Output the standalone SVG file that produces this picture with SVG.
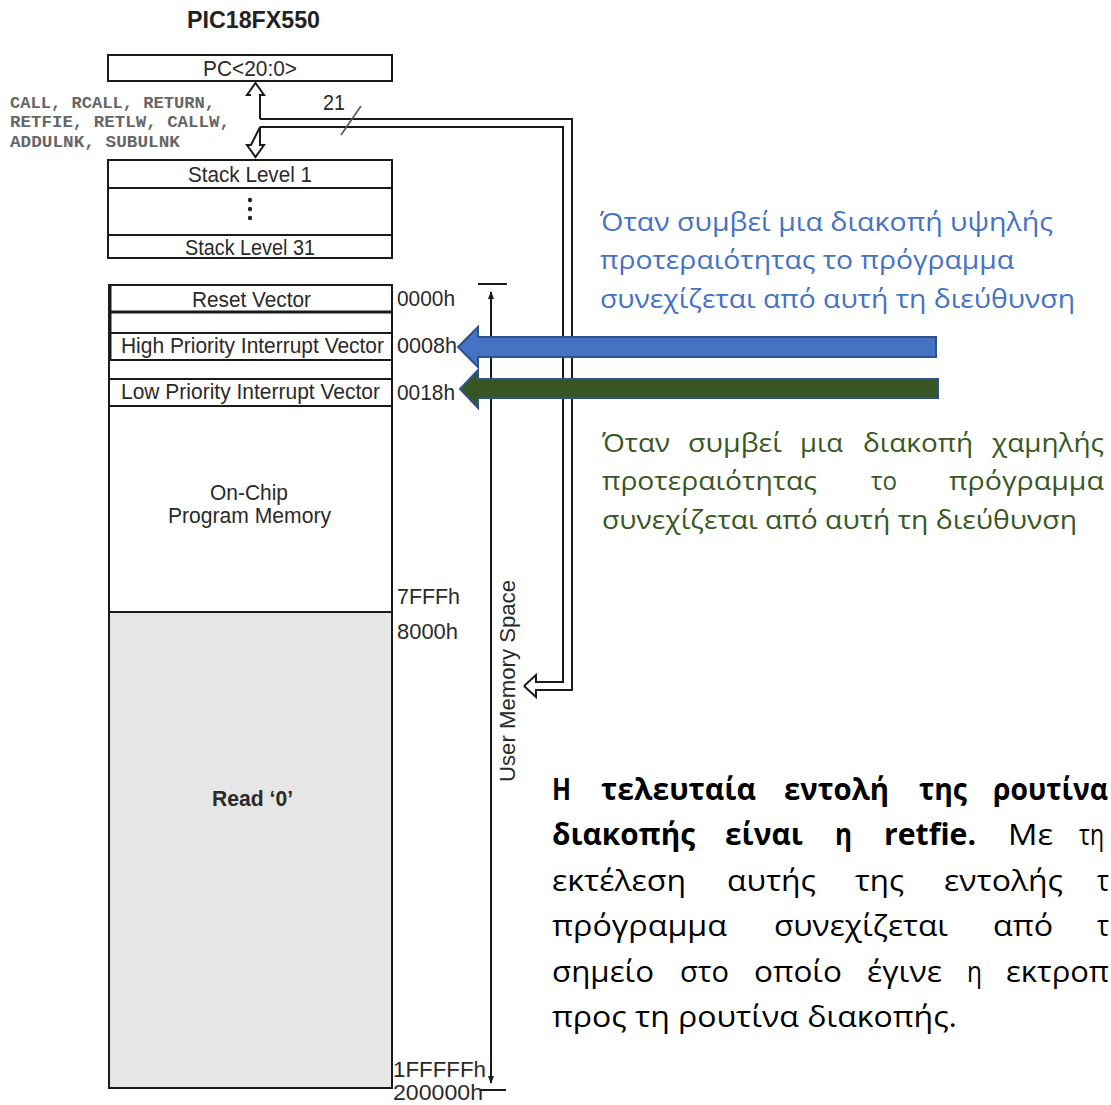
<svg xmlns="http://www.w3.org/2000/svg" width="1111" height="1105" viewBox="0 0 1111 1105">
  <style>
    .lbl { font-family: "Liberation Sans", Arial, sans-serif; font-size: 22px; fill: #2a2a2a; }
    .mono { font-family: "Liberation Mono", "Courier New", monospace; font-size: 17.3px; font-weight: bold; fill: #666; }
    .box { fill: #fff; stroke: #1a1a1a; stroke-width: 2; }
    .ln { stroke: #1a1a1a; stroke-width: 2; fill: none; }
    .gk { font-family: "Open Sans", "Noto Sans", sans-serif; font-size: 26px; }
    .gk2 { font-family: "Open Sans", "Noto Sans", sans-serif; font-size: 29.5px; }
    .blue { fill: #4472C4; }
    .green { fill: #385723; }
    .blk { fill: #000; }
    .b { font-weight: bold; }
  </style>
  <defs>
    <marker id="tip" viewBox="0 0 8 8" refX="7" refY="4" markerWidth="8" markerHeight="8" orient="auto" markerUnits="userSpaceOnUse">
      <path d="M0,1 L8,4 L0,7 Z" fill="#1a1a1a"/>
    </marker>
  </defs>

  <rect width="1111" height="1105" fill="#fff"/>

  <!-- title -->
  <text x="187" y="28" font-family="Liberation Sans, Arial, sans-serif" font-weight="bold" font-size="23" fill="#222" textLength="133" lengthAdjust="spacingAndGlyphs">PIC18FX550</text>

  <!-- program counter -->
  <g id="pc">
    <rect class="box" x="108" y="55" width="284" height="26"/>
    <text class="lbl" x="203" y="76" textLength="94" lengthAdjust="spacingAndGlyphs">PC&lt;20:0&gt;</text>
  </g>

  <!-- instructions acting on the stack -->
  <g id="ops">
    <text class="mono" x="10" y="108" textLength="205" lengthAdjust="spacingAndGlyphs">CALL, RCALL, RETURN,</text>
    <text class="mono" x="10" y="127" textLength="220" lengthAdjust="spacingAndGlyphs">RETFIE, RETLW, CALLW,</text>
    <text class="mono" x="10" y="147" textLength="170" lengthAdjust="spacingAndGlyphs">ADDULNK, SUBULNK</text>
  </g>

  <!-- return address stack -->
  <g id="stack">
    <rect class="box" x="108" y="160" width="284" height="98"/>
    <line class="ln" x1="108" y1="188" x2="392" y2="188"/>
    <line class="ln" x1="108" y1="235" x2="392" y2="235"/>
    <text class="lbl" x="188" y="182" textLength="124" lengthAdjust="spacingAndGlyphs">Stack Level 1</text>
    <circle cx="250" cy="200" r="2.2" fill="#222"/>
    <circle cx="250" cy="209" r="2.2" fill="#222"/>
    <circle cx="250" cy="218" r="2.2" fill="#222"/>
    <text class="lbl" x="185" y="255" textLength="130" lengthAdjust="spacingAndGlyphs">Stack Level 31</text>
  </g>

  <!-- program memory map -->
  <g id="memory">
    <rect x="109" y="613" width="283" height="475" fill="#e6e6e6"/>
    <path class="ln" d="M109,285 H392 V1088 H109 Z"/>
    <line x1="110" y1="285" x2="110" y2="360" stroke="#1a1a1a" stroke-width="3"/>
    <line x1="109" y1="312" x2="392" y2="312" stroke="#1a1a1a" stroke-width="3"/>
    <line class="ln" x1="109" y1="333" x2="392" y2="333"/>
    <line class="ln" x1="109" y1="360" x2="392" y2="360"/>
    <line class="ln" x1="109" y1="379" x2="392" y2="379"/>
    <line class="ln" x1="109" y1="406" x2="392" y2="406"/>
    <line class="ln" x1="109" y1="612" x2="392" y2="612"/>
    <text class="lbl" x="192" y="307" textLength="119" lengthAdjust="spacingAndGlyphs">Reset Vector</text>
    <text class="lbl" x="121" y="353" textLength="263" lengthAdjust="spacingAndGlyphs">High Priority Interrupt Vector</text>
    <text class="lbl" x="121" y="399" textLength="259" lengthAdjust="spacingAndGlyphs">Low Priority Interrupt Vector</text>
    <text class="lbl" x="210" y="500" textLength="78" lengthAdjust="spacingAndGlyphs">On-Chip</text>
    <text class="lbl" x="168" y="523" textLength="163" lengthAdjust="spacingAndGlyphs">Program Memory</text>
    <text class="lbl" x="212" y="806" font-weight="bold" fill="#1a1a1a" textLength="81" lengthAdjust="spacingAndGlyphs">Read ‘0’</text>
  </g>

  <!-- addresses -->
  <g id="addresses">
    <text class="lbl" x="397" y="306" textLength="58" lengthAdjust="spacingAndGlyphs">0000h</text>
    <text class="lbl" x="397" y="353" textLength="60" lengthAdjust="spacingAndGlyphs">0008h</text>
    <text class="lbl" x="397" y="400" textLength="58" lengthAdjust="spacingAndGlyphs">0018h</text>
    <text class="lbl" x="397" y="604" textLength="63" lengthAdjust="spacingAndGlyphs">7FFFh</text>
    <text class="lbl" x="397" y="639" textLength="61" lengthAdjust="spacingAndGlyphs">8000h</text>
    <text class="lbl" x="393" y="1077" font-size="20" textLength="93" lengthAdjust="spacingAndGlyphs">1FFFFFh</text>
    <text class="lbl" x="393" y="1100" font-size="19.5" textLength="90" lengthAdjust="spacingAndGlyphs">200000h</text>
  </g>

  <!-- user memory span -->
  <g id="user-space">
    <line class="ln" x1="478" y1="284" x2="507" y2="284"/>
    <line class="ln" x1="480" y1="1090" x2="506" y2="1090"/>
    <line x1="491" y1="1080" x2="491" y2="292" stroke="#1a1a1a" stroke-width="2" marker-end="url(#tip)"/>
    <line x1="491" y1="300" x2="491" y2="1083" stroke="#1a1a1a" stroke-width="2" marker-end="url(#tip)"/>
    <text class="lbl" transform="translate(515,782) rotate(-90)" x="0" y="0" textLength="202" lengthAdjust="spacingAndGlyphs">User Memory Space</text>
  </g>

  <g id="connectors">
    <!-- PC <-> stack transfer -->
    <path class="ln" stroke-width="2.6" fill="#fff" d="M251,95 H247 L255.5,83 L264,95 H260 V119 M260,127 V145 H264 L255.5,157 L247,145 H251 Z"/>
    <!-- 21-bit bus to the user memory space -->
    <path class="ln" d="M260,119 H572 V690 H536 V697 L524,686"/>
    <path class="ln" d="M260,127 H563 V682 H536 V675 L524,686"/>
    <line x1="361" y1="106" x2="341" y2="135" stroke="#555" stroke-width="1.6"/>
    <text class="lbl" x="323" y="110" textLength="22" lengthAdjust="spacingAndGlyphs">21</text>

    <!-- vector pointers -->
    <path d="M936,337 V357 H478 V367 L458,347 L478,327 V337 Z" fill="#4472C4" stroke="#2F528F" stroke-width="2"/>
    <path d="M938,379 V398 H478 V408 L460,389 L478,370 V379 Z" fill="#375623" stroke="#2F528F" stroke-width="2"/>
  </g>

  <!-- high-priority note -->
  <g id="note-high" class="gk blue">
    <text x="600" y="231" textLength="453" lengthAdjust="spacingAndGlyphs">Όταν συμβεί μια διακοπή υψηλής</text>
    <text x="600" y="269" textLength="414" lengthAdjust="spacingAndGlyphs">προτεραιότητας το πρόγραμμα</text>
    <text x="600" y="308" textLength="475" lengthAdjust="spacingAndGlyphs">συνεχίζεται από αυτή τη διεύθυνση</text>
  </g>

  <!-- low-priority note (justified) -->
  <g id="note-low" class="gk green">
    <text x="602" y="452" textLength="68" lengthAdjust="spacingAndGlyphs">Όταν</text>
    <text x="688" y="452" textLength="94" lengthAdjust="spacingAndGlyphs">συμβεί</text>
    <text x="800" y="452" textLength="43" lengthAdjust="spacingAndGlyphs">μια</text>
    <text x="863" y="452" textLength="110" lengthAdjust="spacingAndGlyphs">διακοπή</text>
    <text x="992" y="452" textLength="112" lengthAdjust="spacingAndGlyphs">χαμηλής</text>
    <text x="602" y="490" textLength="215" lengthAdjust="spacingAndGlyphs">προτεραιότητας</text>
    <text x="871" y="490" textLength="26" lengthAdjust="spacingAndGlyphs">το</text>
    <text x="949" y="490" textLength="155" lengthAdjust="spacingAndGlyphs">πρόγραμμα</text>
    <text x="602" y="529" textLength="475" lengthAdjust="spacingAndGlyphs">συνεχίζεται από αυτή τη διεύθυνση</text>
  </g>

  <!-- retfie note (justified; the last word of some lines meets the right edge) -->
  <g id="note-retfie" class="gk2 blk">
    <text class="b" x="552" y="800" textLength="19" lengthAdjust="spacingAndGlyphs">Η</text>
    <text class="b" x="601" y="800" textLength="155" lengthAdjust="spacingAndGlyphs">τελευταία</text>
    <text class="b" x="784" y="800" textLength="105" lengthAdjust="spacingAndGlyphs">εντολή</text>
    <text class="b" x="919" y="800" textLength="48" lengthAdjust="spacingAndGlyphs">της</text>
    <text class="b" x="993" y="800" textLength="115" lengthAdjust="spacingAndGlyphs">ρουτίνα</text>

    <text class="b" x="552" y="845" textLength="143" lengthAdjust="spacingAndGlyphs">διακοπής</text>
    <text class="b" x="725" y="845" textLength="78" lengthAdjust="spacingAndGlyphs">είναι</text>
    <text class="b" x="835" y="845" textLength="17" lengthAdjust="spacingAndGlyphs">η</text>
    <text class="b" x="884" y="845" textLength="92" lengthAdjust="spacingAndGlyphs">retfie.</text>
    <text x="1008" y="845" textLength="45" lengthAdjust="spacingAndGlyphs">Με</text>
    <text x="1079" y="845" textLength="25" lengthAdjust="spacingAndGlyphs">τη</text>

    <text x="552" y="891" textLength="134" lengthAdjust="spacingAndGlyphs">εκτέλεση</text>
    <text x="727" y="891" textLength="89" lengthAdjust="spacingAndGlyphs">αυτής</text>
    <text x="855" y="891" textLength="49" lengthAdjust="spacingAndGlyphs">της</text>
    <text x="944" y="891" textLength="119" lengthAdjust="spacingAndGlyphs">εντολής</text>
    <text x="1097" y="891" textLength="12" lengthAdjust="spacingAndGlyphs">τ</text>

    <text x="552" y="936" textLength="175" lengthAdjust="spacingAndGlyphs">πρόγραμμα</text>
    <text x="774" y="936" textLength="174" lengthAdjust="spacingAndGlyphs">συνεχίζεται</text>
    <text x="993" y="936" textLength="60" lengthAdjust="spacingAndGlyphs">από</text>
    <text x="1097" y="936" textLength="12" lengthAdjust="spacingAndGlyphs">τ</text>

    <text x="552" y="982" textLength="102" lengthAdjust="spacingAndGlyphs">σημείο</text>
    <text x="680" y="982" textLength="49" lengthAdjust="spacingAndGlyphs">στο</text>
    <text x="754" y="982" textLength="88" lengthAdjust="spacingAndGlyphs">οποίο</text>
    <text x="867" y="982" textLength="75" lengthAdjust="spacingAndGlyphs">έγινε</text>
    <text x="967" y="982" textLength="15" lengthAdjust="spacingAndGlyphs">η</text>
    <text x="1006" y="982" textLength="103" lengthAdjust="spacingAndGlyphs">εκτροπ</text>

    <text x="552" y="1027" textLength="405" lengthAdjust="spacingAndGlyphs">προς τη ρουτίνα διακοπής.</text>
  </g>
</svg>
